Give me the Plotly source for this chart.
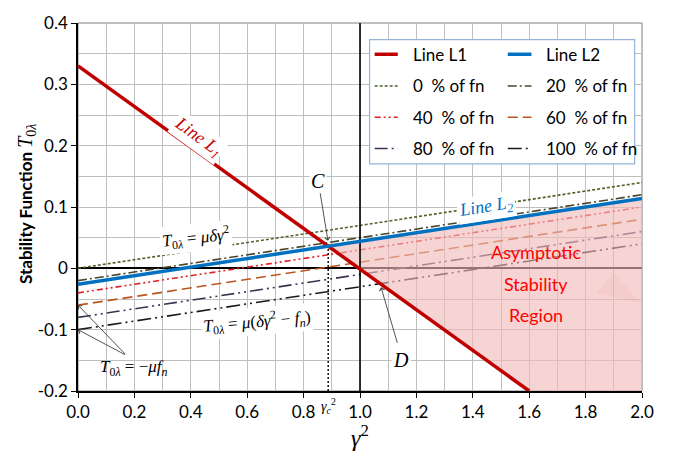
import plotly.graph_objects as go

# ---------------- data ----------------
X_RANGE = [0.0, 2.0]
L1_X = [0.0, 1.6]
L1_Y = [0.33, -0.20]
L2_X = [0.0, 2.0]
L2_Y = [-0.026, 0.114]
FN_X = [0.0, 2.0]
FN_PCT = [0, 20, 40, 60, 80, 100]
FN_Y0 = [0.00, -0.02, -0.04, -0.06, -0.08, -0.10]   # value at gamma^2 = 0
FN_Y2 = [0.14, 0.12, 0.10, 0.08, 0.06, 0.04]        # value at gamma^2 = 2
X_TICKS = [0.0, 0.2, 0.4, 0.6, 0.8, 1.0, 1.2, 1.4, 1.6, 1.8, 2.0]
X_TICKTEXT = ["0.0", "0.2", "0.4", "0.6", "0.8", "1.0", "1.2", "1.4", "1.6", "1.8", "2.0"]
Y_TICKS = [-0.2, -0.1, 0.0, 0.1, 0.2, 0.3, 0.4]
Y_TICKTEXT = ["-0.2", "-0.1", "0", "0.1", "0.2", "0.3", "0.4"]
Y_RANGE = [-0.2, 0.4]
GAMMA_REF = 1.0

# ---------------- styles ----------------
FN_COLORS = ["#4F6228", "#4A452A", "#E02020", "#B8561E", "#403152", "#1A1A1A"]
FN_DASH = ["3px,2px", "9px,3px,2px,3px", "6px,3px,2px,3px,2px,3px",
           "10px,5px", "13px,4px,2px,4px,2px,4px", "14px,4px,2px,4px,2px,4px"]
L1_COLOR = "#C00000"
L2_COLOR = "#0070C0"
SERIF = "Liberation Serif"
SANS = "Lato"


def line_eval(xs, ys, x):
    return ys[0] + (ys[1] - ys[0]) * (x - xs[0]) / (xs[1] - xs[0])


def intersect(xa, ya, xb, yb):
    sa = (ya[1] - ya[0]) / (xa[1] - xa[0])
    sb = (yb[1] - yb[0]) / (xb[1] - xb[0])
    ia = ya[0] - sa * xa[0]
    ib = yb[0] - sb * xb[0]
    x = (ib - ia) / (sa - sb)
    return x, ia + sa * x


C_X, C_Y = intersect(L1_X, L1_Y, L2_X, L2_Y)
D_X, D_Y = intersect(L1_X, L1_Y, FN_X, [FN_Y0[-1], FN_Y2[-1]])

fig = go.Figure()

# fn lines
for pct, y0, y2, col, dash in zip(FN_PCT, FN_Y0, FN_Y2, FN_COLORS, FN_DASH):
    fig.add_trace(go.Scatter(x=FN_X, y=[y0, y2], mode="lines", name=f"{pct} % of fn",
                             line=dict(color=col, width=1.6, dash=dash), showlegend=False,
                             hoverinfo="skip"))

# asymptotic stability region
reg_x = [C_X, X_RANGE[1], X_RANGE[1], L1_X[1], C_X]
reg_y = [C_Y, line_eval(L2_X, L2_Y, X_RANGE[1]), Y_RANGE[0], L1_Y[1], C_Y]
fig.add_trace(go.Scatter(x=reg_x, y=reg_y, mode="lines", fill="toself",
                         fillcolor="rgba(242,186,186,0.62)", line=dict(width=0),
                         showlegend=False, hoverinfo="skip"))
# faint artifact triangle
TRI_X = [1.837, 1.902, 1.997, 1.837]
TRI_Y = [-0.041, -0.007, -0.057, -0.041]
fig.add_trace(go.Scatter(x=TRI_X, y=TRI_Y, mode="lines", fill="toself",
                         fillcolor="rgba(230,120,120,0.08)", line=dict(width=0),
                         showlegend=False, hoverinfo="skip"))

# dotted gamma_c line
fig.add_trace(go.Scatter(x=[C_X, C_X], y=[Y_RANGE[0], C_Y], mode="lines",
                         line=dict(color="#111111", width=1.5, dash="2px,2px"),
                         showlegend=False, hoverinfo="skip"))
# vertical reference line at gamma^2 = 1
fig.add_trace(go.Scatter(x=[GAMMA_REF, GAMMA_REF], y=Y_RANGE, mode="lines",
                         line=dict(color="#000000", width=1.6),
                         showlegend=False, hoverinfo="skip"))

fig.add_trace(go.Scatter(x=L1_X, y=L1_Y, mode="lines", name="Line L1",
                         line=dict(color=L1_COLOR, width=3.5), showlegend=False))
fig.add_trace(go.Scatter(x=L2_X, y=L2_Y, mode="lines", name="Line L2",
                         line=dict(color=L2_COLOR, width=3.5), showlegend=False))

# ---------------- manual legend ----------------
LEG_NAMES = ["Line L1", "Line L2"] + [f"{p}\u00a0 % of fn" for p in FN_PCT]
LEG_COLORS = [L1_COLOR, L2_COLOR] + FN_COLORS
LEG_DASH = ["solid", "solid"] + FN_DASH
LEG_WIDTH = [3.5, 3.5] + [1.6] * 6
shapes = []
annotations = []
shapes.append(dict(type="rect", xref="paper", yref="paper", x0=0.517, x1=0.987, y0=0.617, y1=0.955,
                   line=dict(color="#95B3D7", width=1.2), fillcolor="white", layer="above"))
row_y = [0.915, 0.829, 0.744, 0.659]
col_x = [(0.526, 0.567, 0.590), (0.762, 0.804, 0.8255)]
for i, (nm, col, dsh, w) in enumerate(zip(LEG_NAMES, LEG_COLORS, LEG_DASH, LEG_WIDTH)):
    r, c = divmod(i, 2)
    lx0, lx1, tx = col_x[c]
    shapes.append(dict(type="line", xref="paper", yref="paper", x0=lx0, x1=lx1, y0=row_y[r], y1=row_y[r],
                       line=dict(color=col, width=w, dash=dsh), layer="above"))
    annotations.append(dict(xref="paper", yref="paper", x=tx, y=row_y[r], text=nm, showarrow=False,
                            xanchor="left", yanchor="middle", font=dict(family=SANS, size=17, color="black")))

# plot frame (top/right)
shapes.append(dict(type="rect", xref="paper", yref="paper", x0=0, x1=1, y0=0, y1=1,
                   line=dict(color="#7F7F7F", width=1), layer="below"))

# ---------------- annotations ----------------
def txt(x, y, text, size=15, color="black", angle=0, bg="white", family=SERIF, **kw):
    d = dict(x=x, y=y, text=text, showarrow=False, textangle=angle,
             font=dict(family=family, size=size, color=color), bgcolor=bg, borderpad=1)
    d.update(kw)
    annotations.append(d)


def arrow(x, y, ax, ay):
    annotations.append(dict(x=x, y=y, ax=ax, ay=ay, axref="x", ayref="y", text="",
                            showarrow=True, arrowhead=4, arrowsize=1.1, arrowwidth=0.9,
                            arrowcolor="#404040", standoff=0, startstandoff=0))


txt(0.425, 0.213, "<i>Line L<sub>1</sub></i>", size=18, color=L1_COLOR, angle=36)
txt(1.448, 0.100, "<i>Line L<sub>2</sub></i>", size=18, color=L2_COLOR, angle=-9)
txt(0.85, 0.142, "<i>C</i>", size=20)
arrow(C_X - 0.001, C_Y + 0.009, 0.858, 0.125)
txt(1.144, -0.150, "<i>D</i>", size=20)
arrow(D_X + 0.003, D_Y - 0.006, 1.134, -0.124)
txt(0.42, 0.050, "<i>T</i><sub>0<i>λ</i></sub> = <i>μδγ</i><sup>2</sup>", size=17, angle=-6)
txt(0.633, -0.086, "<i>T</i><sub>0<i>λ</i></sub> = <i>μ</i>(<i>δγ</i><sup>2</sup> − <i>f<sub>n</sub></i>)",
    size=17, angle=-5)
txt(0.197, -0.163, "<i>T</i><sub>0<i>λ</i></sub> = −<i>μf<sub>n</sub></i>", size=17, bg="rgba(0,0,0,0)")
arrow(FN_X[0], FN_Y0[3], 0.172, -0.142)
arrow(FN_X[0], FN_Y0[5], 0.172, -0.142)

for yy, word in zip([0.026, -0.025, -0.076], ["Asymptotic", "Stability", "Region"]):
    txt(1.625, yy, word, size=18, color="#FF0000", bg="rgba(0,0,0,0)", family=SANS)

# gamma_c^2 below axis
annotations.append(dict(x=C_X, xref="x", y=-0.008, yref="paper", yanchor="top", showarrow=False,
                        text="<i>γ<sub>c</sub></i><sup>2</sup>",
                        font=dict(family=SERIF, size=14, color="black")))
# x axis title
annotations.append(dict(x=GAMMA_REF, xref="x", y=-0.121, yref="paper", yanchor="middle", showarrow=False,
                        text="<i>γ</i><sup>2</sup>", font=dict(family=SERIF, size=24, color="black")))
# y axis title
annotations.append(dict(x=-0.118, xref="paper", y=0.508, yref="paper", showarrow=False, textangle=-90,
                        text="<b>Stability Function </b><span style=\"font-family:'Liberation Serif';font-size:20px\"><i>T</i><sub>0<i>λ</i></sub></span>",
                        font=dict(family=SANS, size=17, color="black")))

fig.update_layout(
    width=674, height=454,
    margin=dict(l=78, r=32, t=13, b=63),
    paper_bgcolor="white", plot_bgcolor="white",
    showlegend=False,
    shapes=shapes, annotations=annotations,
    xaxis=dict(range=X_RANGE, tickvals=X_TICKS, ticktext=X_TICKTEXT, showgrid=True,
               gridcolor="#BFBFBF", gridwidth=1, zeroline=False,
               showline=True, linecolor="black", linewidth=1.5,
               ticks="outside", ticklen=5, tickcolor="black",
               tickfont=dict(family=SANS, size=17, color="black"),
               minor=dict(dtick=0.1, showgrid=True, gridcolor="#BFBFBF", gridwidth=1)),
    yaxis=dict(range=Y_RANGE, tickvals=Y_TICKS, ticktext=Y_TICKTEXT, showgrid=True,
               gridcolor="#BFBFBF", gridwidth=1, zeroline=True, zerolinecolor="#000000",
               zerolinewidth=1.5, showline=True, linecolor="black", linewidth=1.5,
               ticks="outside", ticklen=5, tickcolor="black",
               tickfont=dict(family=SANS, size=17, color="black"),
               minor=dict(dtick=0.05, showgrid=True, gridcolor="#BFBFBF", gridwidth=1)),
)

fig.write_html("out.html")
